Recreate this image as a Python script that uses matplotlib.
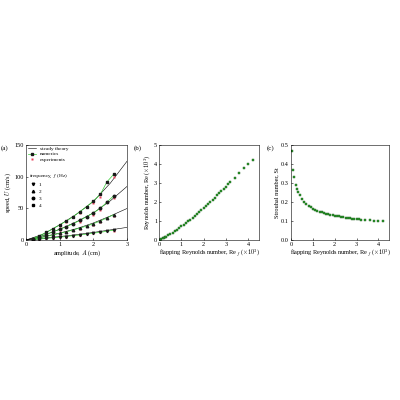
import matplotlib
matplotlib.use("Agg")
import matplotlib.pyplot as plt

plt.rcParams['font.family'] = 'Liberation Serif'
plt.rcParams['mathtext.fontset'] = 'cm'
plt.rcParams['font.size'] = 4.5

# panel (a): speed vs amplitude
amp = [0.2, 0.4, 0.6, 0.8, 1.0, 1.2, 1.4, 1.6, 1.8, 2.0, 2.2, 2.4, 2.6]
num_f1 = [0.5, 1.5, 2.5, 3.5, 4.5, 5.5, 7, 8, 9.5, 11, 12, 14, 15.5]
num_f2 = [1, 3, 5.5, 8, 10.5, 13, 16, 19, 22, 26, 30, 35, 40]
num_f3 = [1.5, 5, 8.5, 13, 17, 21, 26, 31, 37, 43, 50, 60, 70]
num_f4 = [2, 7, 12, 18, 24, 30, 37, 45, 53, 62, 72, 92, 104]
exp_amp = [0.4, 0.6, 0.8, 1.0, 1.2, 1.6, 2.0, 2.2, 2.6]
exp_f1 = [1.5, 2.5, 3.5, 4.5, 5.5, 8, 10.5, 12, 15]
exp_f2 = [3, 5, 7.5, 10, 12.5, 18, 24, 29, 38]
exp_f3 = [4.5, 8, 12, 16, 20, 29, 40, 47, 66]
exp_f4 = [6, 11, 16, 22, 28, 42, 58, 68, 100]
theory_amp = [0, 0.5, 1.0, 1.5, 2.0, 2.5, 3.0]
theory_f1 = [0, 2.5, 5.5, 8.5, 12, 16, 20]
theory_f2 = [0, 5, 11, 18, 27, 38, 50]
theory_f3 = [0, 7, 17, 29, 43, 62, 85]
theory_f4 = [0, 9, 24, 41, 61, 90, 125]

# panel (b) and (c)
ref = [0.02, 0.05, 0.1, 0.15, 0.2, 0.25, 0.3, 0.4, 0.5, 0.6, 0.7, 0.8, 0.9, 1.0, 1.1,
       1.2, 1.3, 1.4, 1.5, 1.6, 1.7, 1.8, 1.9, 2.0, 2.1, 2.2, 2.3, 2.4, 2.5, 2.6,
       2.7, 2.8, 2.9, 3.0, 3.1, 3.2, 3.4, 3.6, 3.8, 4.0, 4.2]
re = [0.01, 0.02, 0.05, 0.08, 0.11, 0.14, 0.17, 0.24, 0.31, 0.39, 0.47, 0.55, 0.63, 0.72, 0.81,
      0.9, 0.99, 1.08, 1.18, 1.28, 1.38, 1.48, 1.58, 1.69, 1.79, 1.9, 2.01, 2.12, 2.23, 2.35,
      2.46, 2.58, 2.69, 2.81, 2.93, 3.05, 3.29, 3.53, 3.78, 4.02, 4.2]
st = [0.47, 0.47, 0.37, 0.33, 0.29, 0.27, 0.255, 0.235, 0.215, 0.2, 0.19, 0.18, 0.172, 0.165, 0.16,
      0.155, 0.15, 0.146, 0.142, 0.139, 0.136, 0.133, 0.13, 0.128, 0.126, 0.124, 0.122, 0.12, 0.118, 0.116,
      0.114, 0.113, 0.112, 0.11, 0.109, 0.108, 0.106, 0.104, 0.102, 0.101, 0.1]

green = '#2ca02c'
fig = plt.figure(figsize=(4, 4), dpi=100)
axa = fig.add_axes([0.065, 0.40, 0.253, 0.237])
axb = fig.add_axes([0.398, 0.40, 0.25, 0.237])
axc = fig.add_axes([0.728, 0.40, 0.245, 0.237])

for th in [theory_f1, theory_f2, theory_f3, theory_f4]:
    axa.plot(theory_amp, th, color='k', lw=0.4)
axa.plot([], [], color='k', lw=0.4, label='steady theory')
for e in [exp_f1, exp_f2, exp_f3, exp_f4]:
    axa.plot(exp_amp, e, 's', color='#e8405a', ms=2, mec='none')
markers = ['v', '^', 'o', 's']
for m, n in zip(markers, [num_f1, num_f2, num_f3, num_f4]):
    axa.plot(amp, n, '-', color='#33cc33', lw=0.5, marker=m, ms=1.8, mfc='#1a1a1a', mec='#1a1a1a')
axa.plot([], [], '-', color='#33cc33', lw=0.5, marker='s', ms=1.8, mfc='#1a1a1a', mec='#1a1a1a', label='numerics')
axa.plot([], [], 's', color='#e8405a', ms=2, mec='none', label='experiments')
axa.legend(loc='upper left', frameon=False, fontsize=3.8, handlelength=1.5, borderaxespad=0.2,
           labelspacing=0.15, handleheight=0.5, borderpad=0.1)
axa.text(0.1, 100, 'frequency, $f$ (Hz)', fontsize=3.8)
for i, m in enumerate(markers):
    axa.plot(0.2, 89 - i * 11, m, color='k', ms=1.8)
    axa.text(0.38, 86 - i * 11, str(i + 1), fontsize=3.8)
axa.set_xlim(0, 3)
axa.set_ylim(0, 150)
axa.set_xticks([0, 1, 2, 3])
axa.set_yticks([0, 50, 100, 150])
axa.set_xlabel('amplitude, $A$ (cm)', labelpad=1)
axa.set_ylabel('speed, $U$ (cm/s)', labelpad=1)

axb.plot(ref, re, 's', color=green, ms=2, mec='#1a5a1a', mew=0.3)
axb.set_xlim(0, 4.5)
axb.set_ylim(0, 5)
axb.set_xticks([0, 1, 2, 3, 4])
axb.set_xlabel(r'flapping Reynolds number, Re$_f$ ($\times 10^3$)', labelpad=1)
axb.set_ylabel(r'Reynolds number, Re ($\times 10^3$)', labelpad=1)

axc.plot(ref[1:], st[1:], 's', color=green, ms=2, mec='#1a5a1a', mew=0.3)
axc.set_xlim(0, 4.5)
axc.set_ylim(0, 0.5)
axc.set_xticks([0, 1, 2, 3, 4])
axc.set_xlabel(r'flapping Reynolds number, Re$_f$ ($\times 10^3$)', labelpad=1)
axc.set_ylabel('Strouhal number, St', labelpad=1)

for ax, lab in [(axa, '(a)'), (axb, '(b)'), (axc, '(c)')]:
    ax.tick_params(direction='in', length=1.5, width=0.4, pad=1.5, labelsize=4.5)
    for s in ax.spines.values():
        s.set_linewidth(0.4)
    ax.text(-0.25, 1.0, lab, transform=ax.transAxes, fontsize=5, va='top')

fig.savefig('out.png', dpi=100)
